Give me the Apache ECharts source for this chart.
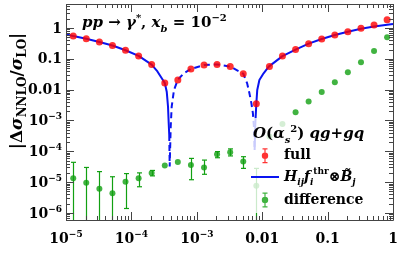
<!DOCTYPE html>
<html><head><meta charset="utf-8">
<script src="https://cdn.jsdelivr.net/npm/echarts@6/dist/echarts.min.js"></script>
<style>html,body{margin:0;padding:0;background:#fff}#c{width:399px;height:269px}</style>
</head><body><div id="c"></div>
<script>
// ---------------- data ----------------
const xPts = [1.29e-5, 2.04e-5, 3.24e-5, 5.13e-5, 8.13e-5, 1.29e-4, 2.04e-4, 3.24e-4, 5.13e-4, 8.13e-4,
  1.29e-3, 2.04e-3, 3.24e-3, 5.13e-3, 8.13e-3, 1.29e-2, 2.04e-2, 3.24e-2, 5.13e-2, 8.13e-2,
  0.129, 0.204, 0.324, 0.513, 0.813];
const fullVals = [0.55, 0.45, 0.35, 0.27, 0.19, 0.124, 0.065, 0.0164, 0.0206, 0.047,
  0.063, 0.066, 0.056, 0.033, 0.0035, 0.056, 0.124, 0.2, 0.31, 0.44,
  0.59, 0.76, 0.98, 1.25, 1.86];
const diffVals = [1.33e-5, 9.6e-6, 6.1e-6, 4.4e-6, 1.03e-5, 1.33e-5, 2.0e-5, 3.5e-5, 4.5e-5, 3.6e-5,
  3.0e-5, 8.0e-5, 9.3e-5, 4.7e-5, 7.7e-6, 3.0e-4, 7.7e-4, 1.85e-3, 4.1e-3, 8.4e-3,
  0.0173, 0.0366, 0.077, 0.18, 0.5];
const diffHi = [4.4e-5, 3.0e-5, 2.2e-5, 1.5e-5, 1.9e-5, 2.0e-5, 2.4e-5, null, null, 5.9e-5,
  5.2e-5, 9.8e-5, 1.2e-4, 6.7e-5, 2.8e-5, null, null, null, null, null,
  null, null, null, null, null];
const diffLo = [1e-9, 1e-9, 1e-9, 1e-9, 1.4e-6, 7.1e-6, 1.6e-5, null, null, 1.2e-5,
  1.8e-5, 6.2e-5, 7.1e-5, 2.8e-5, 1e-9, null, null, null, null, null,
  null, null, null, null, null];
// H_ij f_i^thr (x) B_j : solid (positive) branches and dashed (negative) branch
const hSolidAX = [1e-5, 1.29e-5, 2.04e-5, 3.24e-5, 5.13e-5, 8.13e-5, 1.29e-4, 2.04e-4, 2.5e-4, 3.24e-4, 3.47e-4, 3.63e-4, 3.72e-4, 3.79e-4];
const hSolidAY = [0.62, 0.55, 0.45, 0.35, 0.27, 0.19, 0.124, 0.065, 0.039, 0.0164, 0.0086, 0.0028, 8.1e-4, 3.4e-4];
const hDashX = [3.79e-4, 3.85e-4, 3.99e-4, 4.13e-4, 4.48e-4, 5.13e-4, 6.35e-4, 8.13e-4, 1.29e-3, 2.04e-3, 3.24e-3, 5.13e-3, 5.89e-3, 6.38e-3, 6.84e-3, 7.21e-3, 7.47e-3, 7.66e-3];
const hDashY = [3.4e-4, 3.2e-5, 6.3e-4, 2.8e-3, 9.8e-3, 0.021, 0.034, 0.047, 0.063, 0.066, 0.056, 0.033, 0.016, 7.6e-3, 3.6e-3, 1.7e-3, 6.3e-4, 1.1e-4];
const hSolidBX = [7.66e-3, 7.85e-3, 8.13e-3, 8.4e-3, 9.06e-3, 1.05e-2, 1.26e-2, 2.04e-2, 3.24e-2, 5.13e-2, 8.13e-2, 0.129, 0.204, 0.324, 0.513, 0.813, 1.0];
const hSolidBY = [1.1e-4, 8e-4, 3.5e-3, 9.8e-3, 0.0206, 0.034, 0.056, 0.122, 0.2, 0.31, 0.44, 0.59, 0.76, 0.95, 1.12, 1.28, 1.35];
// axis ticks
const xTickValues = [1e-5, 1e-4, 1e-3, 1e-2, 1e-1, 1];
const xTickBase = ['10', '10', '10', '0.01', '0.1', '1'];
const xTickExp = ['−5', '−4', '−3', '', '', ''];
const yTickValues = [1e-6, 1e-5, 1e-4, 1e-3, 1e-2, 1e-1, 1];
const yTickBase = ['10', '10', '10', '10', '0.01', '0.1', '1'];
const yTickExp = ['−6', '−5', '−4', '−3', '', '', ''];
const xMinorTicks = [2e-5,3e-5,4e-5,5e-5,6e-5,7e-5,8e-5,9e-5, 2e-4,3e-4,4e-4,5e-4,6e-4,7e-4,8e-4,9e-4,
  2e-3,3e-3,4e-3,5e-3,6e-3,7e-3,8e-3,9e-3, 0.02,0.03,0.04,0.05,0.06,0.07,0.08,0.09, 0.2,0.3,0.4,0.5,0.6,0.7,0.8,0.9];
const yMinorTicks = [6e-7,7e-7,8e-7,9e-7, 2e-6,3e-6,4e-6,5e-6,6e-6,7e-6,8e-6,9e-6, 2e-5,3e-5,4e-5,5e-5,6e-5,7e-5,8e-5,9e-5,
  2e-4,3e-4,4e-4,5e-4,6e-4,7e-4,8e-4,9e-4, 2e-3,3e-3,4e-3,5e-3,6e-3,7e-3,8e-3,9e-3, 0.02,0.03,0.04,0.05,0.06,0.07,0.08,0.09,
  0.2,0.3,0.4,0.5,0.6,0.7,0.8,0.9, 2,3,4,5];
const xMin = 1e-5, xMax = 1, yMin = 5.93e-7, yMax = 6.0;

// ---------------- styles ----------------
const FONT = 'DejaVu Serif';
const FRAME = '#444444';
const BLUE = '#0a14f0', RED = '#ff0000', GREEN = '#12a012';
const MAJOR_LEN = 8, MINOR_LEN = 4;

const zip = (a, b) => a.map((v, i) => [v, b[i]]);
function tickLabel(v, vals, base, exp) {
  for (let i = 0; i < vals.length; i++) {
    if (Math.abs(Math.log10(v) - Math.log10(vals[i])) < 1e-6)
      return exp[i] ? '{b|' + base[i] + '}{s|' + exp[i] + '}' : '{b|' + base[i] + '}';
  }
  return '';
}
const richLab = {
  b: {fontFamily: FONT, fontWeight: 'bold', fontSize: 14, color: '#000', padding: [2, 0, 0, 0], verticalAlign: 'bottom'},
  s: {fontFamily: FONT, fontWeight: 'bold', fontSize: 9, color: '#000', padding: [0, 0, 7, 0], verticalAlign: 'bottom'}
};
function mathRich(fs, sfs) {
  const H = fs + 9;
  return {
    n: {fontFamily: FONT, fontWeight: 'bold', fontSize: fs, color: '#000', padding: [5, 0, H - fs - 5, 0], verticalAlign: 'top'},
    i: {fontFamily: FONT, fontWeight: 'bold', fontStyle: 'italic', fontSize: fs, color: '#000', padding: [5, 0, H - fs - 5, 0], verticalAlign: 'top'},
    sp: {fontFamily: FONT, fontWeight: 'bold', fontSize: sfs, color: '#000', padding: [2, 0, H - sfs - 2, 0], verticalAlign: 'top'},
    sb: {fontFamily: FONT, fontWeight: 'bold', fontSize: sfs, color: '#000', padding: [H - sfs - 1, 0, 1, 0], verticalAlign: 'top'},
    sbi: {fontFamily: FONT, fontWeight: 'bold', fontStyle: 'italic', fontSize: sfs, color: '#000', padding: [H - sfs - 1, 0, 1, 0], verticalAlign: 'top'}
  };
}
const errIcon = 'path://M0,0M28,16M13.4,0.5H14.6V15.5H13.4Z M11.5,0.5H16.5V1.7H11.5Z M11.5,14.3H16.5V15.5H11.5Z M17.2,8A3.2,3.2,0,1,1,10.8,8A3.2,3.2,0,1,1,17.2,8Z';
const lineIcon = 'path://M0,0M28,16M0,7H28V9H0Z';

const chart = echarts.init(document.getElementById('c'), null, {renderer: 'canvas'});

function axisCommon(extra) {
  return Object.assign({
    type: 'log', logBase: 10,
    axisLine: {show: false},
    axisTick: {show: false},
    splitLine: {show: false}
  }, extra);
}
function xTickSeries(name, vals, len) {
  return {type: 'custom', name: name, z: 10, data: vals.map(v => [v, 1]), encode: {x: 0, y: 1},
    renderItem: (params, api) => {
      const cs = params.coordSys;
      const x = Math.round(api.coord([api.value(0), 1])[0]) + 0.5;
      const b = cs.y + cs.height, t = cs.y;
      return {type: 'group', children: [
        {type: 'line', shape: {x1: x, y1: b, x2: x, y2: b - len}, style: {stroke: FRAME, lineWidth: 1}},
        {type: 'line', shape: {x1: x, y1: t, x2: x, y2: t + len}, style: {stroke: FRAME, lineWidth: 1}}
      ]};
    }};
}
function yTickSeries(name, vals, len) {
  return {type: 'custom', name: name, z: 10, data: vals.map(v => [1e-3, v]), encode: {x: 0, y: 1},
    renderItem: (params, api) => {
      const cs = params.coordSys;
      const y = Math.round(api.coord([1e-3, api.value(1)])[1]) + 0.5;
      const l = cs.x, r = cs.x + cs.width;
      return {type: 'group', children: [
        {type: 'line', shape: {x1: l, y1: y, x2: l + len, y2: y}, style: {stroke: FRAME, lineWidth: 1}},
        {type: 'line', shape: {x1: r, y1: y, x2: r - len, y2: y}, style: {stroke: FRAME, lineWidth: 1}}
      ]};
    }};
}

const errData = [];
xPts.forEach((x, i) => { if (diffHi[i] != null) errData.push([x, diffLo[i], diffHi[i]]); });

const option = {
  animation: false,
  backgroundColor: '#fff',
  grid: {left: 66, right: 6, top: 4, bottom: 49, outerBoundsMode: 'none', containLabel: false},
  xAxis: [
    axisCommon({min: xMin, max: xMax, position: 'bottom',
      axisLabel: {margin: 10, formatter: v => tickLabel(v, xTickValues, xTickBase, xTickExp), rich: richLab, showMinLabel: true, showMaxLabel: true}})
  ],
  yAxis: [
    axisCommon({min: yMin, max: yMax, position: 'left',
      axisLabel: {margin: 4, formatter: v => tickLabel(v, yTickValues, yTickBase, yTickExp), rich: richLab}})
  ],
  legend: [
    {data: [{name: 'full', icon: errIcon}], orient: 'vertical', left: 251, top: 147.7, padding: 0, itemWidth: 28, itemHeight: 16,
      textStyle: {fontFamily: FONT, fontWeight: 'bold', fontSize: 14, color: '#000'}, selectedMode: false},
    {data: [{name: 'H', icon: lineIcon}], orient: 'vertical', left: 251, top: 167.5, padding: 0, itemWidth: 28, itemHeight: 16, selectedMode: false,
      formatter: () => '{i|H}{sbi|ij}{i|f}{sbi|i}{sp|thr}{n|⊗}{i|B̃}{sbi|j}',
      textStyle: {rich: mathRich(14, 9)}},
    {data: [{name: 'difference', icon: errIcon}], orient: 'vertical', left: 251, top: 192, padding: 0, itemWidth: 28, itemHeight: 16,
      textStyle: {fontFamily: FONT, fontWeight: 'bold', fontSize: 14, color: '#000'}, selectedMode: false}
  ],
  graphic: {elements: [
    {type: 'rect', z: 3, shape: {x: 249, y: 118, width: 124, height: 95}, style: {fill: 'rgba(255,255,255,0.78)'}},
    {type: 'text', z: 5, x: 253, y: 134, style: {
      text: '{i|O}{n|(}{i|α}{sbi|s}{sp|2}{n|)}{i| qg}{n|+}{i|gq}', rich: mathRich(15, 10), align: 'left', verticalAlign: 'middle'}},
    {type: 'text', z: 5, x: 82, y: 23, style: {
      text: '{i|pp}{n| → }{i|γ}{sp|*}{n|, }{i|x}{sbi|b}{n| = 10}{sp|−2}', rich: mathRich(15, 10), align: 'left', verticalAlign: 'middle'}},
    {type: 'text', z: 5, x: 17, y: 91, rotation: Math.PI / 2, style: {
      text: '{n|\u007CΔ}{i|σ}{sb|NNLO}{n|/}{i|σ}{sb|LO}{n|\u007C}', rich: mathRich(17, 12), align: 'center', verticalAlign: 'middle'}}
  ]},
  series: [
    {type: 'custom', name: 'frame', z: 10, data: [[1e-3, 1e-3]], encode: {x: 0, y: 1},
      renderItem: (params, api) => {
        const cs = params.coordSys;
        return {type: 'rect', shape: {x: cs.x + 0.5, y: cs.y + 0.5, width: cs.width, height: cs.height},
          style: {fill: 'none', stroke: FRAME, lineWidth: 1}};
      }},
    xTickSeries('xmajor', xTickValues, MAJOR_LEN),
    xTickSeries('xminor', xMinorTicks, MINOR_LEN),
    yTickSeries('ymajor', yTickValues, MAJOR_LEN),
    yTickSeries('yminor', yMinorTicks, MINOR_LEN),
    {type: 'line', name: 'H', data: zip(hSolidAX, hSolidAY), showSymbol: false, symbol: 'none', color: BLUE,
      lineStyle: {color: BLUE, width: 2}, z: 2},
    {type: 'line', name: 'H', data: zip(hSolidBX, hSolidBY), showSymbol: false, symbol: 'none', color: BLUE,
      lineStyle: {color: BLUE, width: 2}, z: 2},
    {type: 'line', name: 'Hneg', data: zip(hDashX, hDashY), showSymbol: false, symbol: 'none', color: BLUE,
      lineStyle: {color: BLUE, width: 2, type: [6, 4]}, z: 2},
    {type: 'custom', name: 'differr', z: 2, data: errData, encode: {x: 0, y: [1, 2]},
      renderItem: (params, api) => {
        const cs = params.coordSys;
        const bot = cs.y + cs.height;
        const pH = api.coord([api.value(0), api.value(2)]);
        const pL = api.coord([api.value(0), api.value(1)]);
        const cx = Math.round(pH[0]) + 0.5;
        const yL = Math.min(pL[1], bot);
        const ch = [
          {type: 'line', shape: {x1: cx, y1: pH[1], x2: cx, y2: yL}, style: {stroke: GREEN, lineWidth: 1.2}},
          {type: 'line', shape: {x1: cx - 2.5, y1: pH[1], x2: cx + 2.5, y2: pH[1]}, style: {stroke: GREEN, lineWidth: 1.2}}
        ];
        if (pL[1] < bot) ch.push({type: 'line', shape: {x1: cx - 2.5, y1: pL[1], x2: cx + 2.5, y2: pL[1]}, style: {stroke: GREEN, lineWidth: 1.2}});
        return {type: 'group', children: ch};
      }},
    {type: 'scatter', name: 'difference', data: zip(xPts, diffVals), symbol: 'circle', symbolSize: 6, color: GREEN,
      itemStyle: {color: GREEN}, z: 2},
    {type: 'scatter', name: 'full', data: zip(xPts, fullVals), symbol: 'circle', symbolSize: 7, color: RED,
      itemStyle: {color: RED}, z: 2}
  ]
};
chart.setOption(option);
</script></body></html>
